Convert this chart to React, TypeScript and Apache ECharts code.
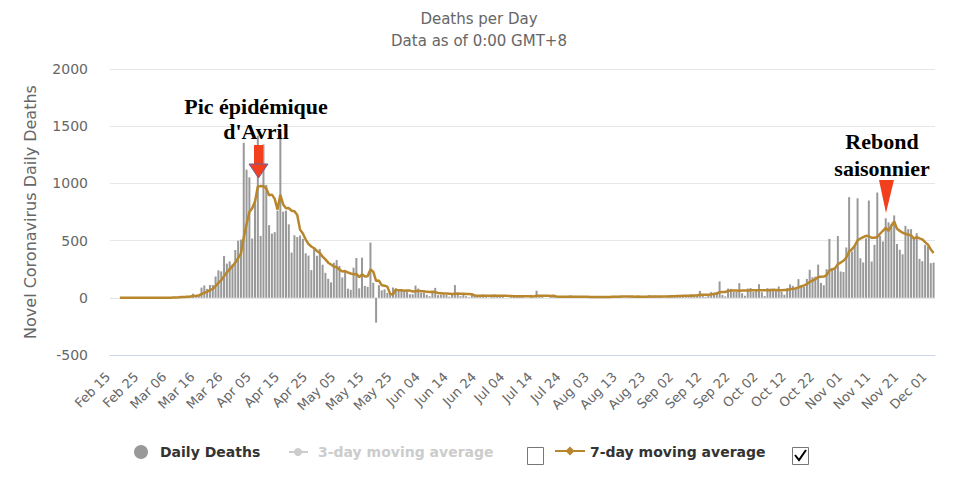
import React, { useEffect, useRef } from "react";
import * as echarts from "echarts";

// ---- categories (one per day, Feb 15 .. Dec 03) ----
const MONTH_SPANS: [string, number, number][] = [
  ["Feb", 15, 29], ["Mar", 1, 31], ["Apr", 1, 30], ["May", 1, 31], ["Jun", 1, 30],
  ["Jul", 1, 31], ["Aug", 1, 31], ["Sep", 1, 30], ["Oct", 1, 31], ["Nov", 1, 30], ["Dec", 1, 3],
];
const categories: string[] = [];
MONTH_SPANS.forEach(([m, a, b]) => {
  for (let d = a; d <= b; d++) categories.push(`${m} ${d < 10 ? "0" + d : d}`);
});

// ---- daily deaths, per month ----
const febDeaths = [1, 0, 0, 0, 0, 0, 0, 0, 0, 0, 0, 1, 0, 0, 0];
const marDeaths = [0, 1, 1, 0, 2, 3, 2, 8, 6, 8, 15, 13, 18, 12, 36, 21, 27, 89, 108, 78, 112, 112, 186, 240, 231, 365, 299, 319, 292, 418, 499];
const aprDeaths = [509, 1355, 1120, 1053, 518, 833, 1417, 541, 1341, 987, 635, 561, 574, 762, 1438, 753, 761, 642, 395, 547, 531, 544, 516, 389, 369, 242, 437, 367, 427, 289];
const mayDeaths = [218, 166, 135, 306, 330, 278, 178, 243, 80, 70, 263, 348, 83, 351, 104, 96, 483, 131, -217, 110, 65, 74, 43, 35, 90, 83, 65, 66, 52, 57, 31];
const junDeaths = [31, 107, 81, 44, 46, 27, 13, 54, 87, 23, 27, 28, 24, 10, 29, 111, 28, 14, 28, 14, 5, 23, 30, 18, 14, 29, 10, 3, 26, 30];
const julDeaths = [14, 18, 25, 0, 0, 16, 21, 14, 14, 25, 0, 0, 25, 0, 62, 18, 11, 0, 0, 14, 20, 15, 9, 14, 0, 0, 17, 14, 12, 11, 9];
const augDeaths = [0, 0, 13, 6, 12, 11, 8, 0, 0, 14, 17, 17, 11, 16, 0, 0, 13, 17, 12, 17, 10, 0, 0, 22, 15, 18, 16, 16, 0, 0, 22];
const sepDeaths = [25, 20, 22, 18, 12, 7, 25, 32, 27, 19, 61, 17, 8, 26, 50, 46, 52, 143, 26, 12, 81, 78, 52, 52, 128, 40, 18, 81, 85, 53];
const octDeaths = [63, 119, 49, 15, 84, 80, 77, 61, 99, 54, 27, 86, 117, 104, 88, 163, 110, 95, 165, 245, 180, 185, 290, 130, 110, 250, 515, 260, 250, 540, 230];
const novDeaths = [225, 440, 880, 405, 463, 870, 346, 309, 520, 850, 317, 463, 920, 541, 492, 695, 660, 640, 720, 470, 420, 380, 629, 600, 600, 520, 565, 340, 320, 463];
const decDeaths = [448, 303, 308];

// ---- 7-day moving average, per month ----
const febAvg7 = [null, null, null, 0, 0, 0, 0, 0, 0, 0, 0, 0, 0, 0, 0];
const marAvg7 = [0.1, 0.3, 0.4, 0.3, 0.6, 1, 1.3, 2.4, 3.1, 4.1, 6.3, 7.9, 10, 11.4, 15.4, 17.6, 20.3, 30.9, 44.4, 53, 67.3, 78.1, 101.7, 132.1, 152.4, 189.1, 220.7, 250.3, 276, 309.1, 346.1];
const aprAvg7 = [386, 527, 645, 749, 782, 841, 972, 977, 975, 956, 896, 902, 865, 771, 900, 816, 783, 784, 761, 757, 724, 596, 562, 509, 470, 448, 433, 409, 392, 360];
const mayAvg7 = [336, 307, 291, 273, 267, 246, 230, 234, 221, 212, 206, 209, 181, 205, 186, 188, 247, 228, 147, 151, 110, 106, 98, 34, 29, 71, 65, 65, 62, 64, 63];
const junAvg7 = [55, 58, 61, 58, 57, 52, 50, 53, 50, 42, 40, 37, 37, 36, 33, 36, 37, 35, 35, 33, 33, 32, 20, 19, 19, 19, 18, 18, 19, 19];
const julAvg7 = [18, 19, 18, 17, 16, 15, 13, 13, 13, 13, 13, 13, 14, 11, 18, 19, 17, 17, 17, 15, 18, 11, 10, 10, 10, 10, 11, 10, 9, 10, 9];
const augAvg7 = [9, 9, 8, 7, 7, 7, 7, 7, 7, 7, 9, 10, 10, 11, 11, 11, 11, 11, 10, 11, 10, 10, 10, 11, 11, 12, 12, 12, 12, 12, 12];
const sepAvg7 = [14, 14, 15, 15, 17, 18, 18, 19, 20, 20, 26, 27, 27, 27, 30, 32, 37, 49, 50, 51, 59, 63, 63, 63, 61, 63, 64, 64, 65, 65];
const octAvg7 = [67, 66, 67, 66, 67, 66, 70, 69, 66, 67, 69, 69, 74, 78, 82, 91, 99, 109, 120, 139, 149, 163, 181, 184, 186, 199, 237, 249, 258, 294, 308];
const novAvg7 = [324, 351, 404, 424, 455, 502, 518, 530, 542, 538, 525, 525, 532, 560, 586, 611, 584, 630, 667, 603, 585, 569, 560, 551, 546, 517, 531, 519, 511, 487];
const decAvg7 = [465, 423, 392];

const yTicks = { min: -500, max: 2000, interval: 500 };

const dailyDeaths = [
  ...febDeaths, ...marDeaths, ...aprDeaths, ...mayDeaths, ...junDeaths, ...julDeaths,
  ...augDeaths, ...sepDeaths, ...octDeaths, ...novDeaths, ...decDeaths,
];
const avg7 = [
  ...febAvg7, ...marAvg7, ...aprAvg7, ...mayAvg7, ...junAvg7, ...julAvg7,
  ...augAvg7, ...sepAvg7, ...octAvg7, ...novAvg7, ...decAvg7,
];

const FONT = "DejaVu Sans";
const SERIF = "Liberation Serif";
const BROWN = "#b8862d";
const RED = "#f2401e";

export default function App() {
  const ref = useRef<HTMLDivElement>(null);

  useEffect(() => {
    document.body.style.margin = "0";
    if (!ref.current) return;
    const chart = echarts.init(ref.current, undefined, { renderer: "svg" });
    chart.setOption({
      animation: false,
      textStyle: { fontFamily: FONT },
      title: {
        text: "Deaths per Day",
        subtext: "Data as of 0:00 GMT+8",
        left: "center",
        top: 6,
        itemGap: 7,
        textStyle: { fontSize: 15, fontWeight: "normal", color: "#666", fontFamily: FONT },
        subtextStyle: { fontSize: 15, color: "#666", fontFamily: FONT },
      },
      grid: { left: 110, right: 23, top: 69, bottom: 122 },
      xAxis: {
        type: "category",
        data: categories,
        boundaryGap: true,
        axisLine: { onZero: false, lineStyle: { color: "#ccd6eb", width: 1 } },
        axisTick: { show: false },
        axisLabel: {
          interval: 9,
          rotate: 45,
          fontSize: 13,
          color: "#666",
          margin: 16,
          padding: [0, 5, 0, 0],
          fontFamily: FONT,
        },
        splitLine: { show: false },
      },
      yAxis: {
        type: "value",
        min: yTicks.min,
        max: yTicks.max,
        interval: yTicks.interval,
        name: "Novel Coronavirus Daily Deaths",
        nameLocation: "middle",
        nameGap: 72,
        nameTextStyle: { fontSize: 16, color: "#666", fontFamily: FONT },
        axisLabel: {
          fontSize: 14,
          color: "#666",
          margin: 22,
          fontFamily: FONT,
          formatter: (v: number) => String(v),
        },
        axisLine: { show: false },
        axisTick: { show: false },
        splitLine: { lineStyle: { color: "#e6e6e6", width: 1 } },
      },
      series: [
        {
          name: "Daily Deaths",
          type: "bar",
          data: dailyDeaths,
          barWidth: 2,
          itemStyle: { color: "#999999" },
        },
        {
          name: "7-day moving average",
          type: "line",
          data: avg7,
          symbol: "none",
          lineStyle: { width: 2.5, color: BROWN },
          itemStyle: { color: BROWN },
          z: 3,
        },
      ],
      graphic: [
        // legend
        { type: "circle", shape: { cx: 141, cy: 452, r: 7 }, style: { fill: "#999" } },
        { type: "text", x: 160, y: 452, style: { text: "Daily Deaths", font: `bold 14px "${FONT}"`, fill: "#333", verticalAlign: "middle" } },
        { type: "line", shape: { x1: 289, y1: 452, x2: 308, y2: 452 }, style: { stroke: "#ccc", lineWidth: 2 } },
        { type: "circle", shape: { cx: 298, cy: 452, r: 4 }, style: { fill: "#ccc" } },
        { type: "text", x: 318, y: 452, style: { text: "3-day moving average", font: `bold 14px "${FONT}"`, fill: "#ccc", verticalAlign: "middle" } },
        { type: "rect", shape: { x: 527.5, y: 447.5, width: 16, height: 17 }, style: { fill: "#fff", stroke: "#777", lineWidth: 1 } },
        { type: "line", shape: { x1: 555, y1: 451, x2: 585, y2: 451 }, style: { stroke: BROWN, lineWidth: 2 } },
        { type: "polygon", shape: { points: [[570, 446.5], [574.5, 451], [570, 455.5], [565.5, 451]] }, style: { fill: BROWN } },
        { type: "text", x: 590, y: 452, style: { text: "7-day moving average", font: `bold 14px "${FONT}"`, fill: "#333", verticalAlign: "middle" } },
        { type: "rect", shape: { x: 792.5, y: 447.5, width: 16, height: 17 }, style: { fill: "#fff", stroke: "#777", lineWidth: 1 } },
        { type: "polyline", shape: { points: [[795, 455], [799, 460], [806, 450]] }, style: { stroke: "#000", lineWidth: 2, fill: null } },
        // annotations
        { type: "text", x: 256, y: 106, z: 100, style: { text: "Pic épidémique", font: `bold 22px "${SERIF}"`, fill: "#000", align: "center", verticalAlign: "middle" } },
        { type: "text", x: 256, y: 131, z: 100, style: { text: "d'Avril", font: `bold 22px "${SERIF}"`, fill: "#000", align: "center", verticalAlign: "middle" } },
        { type: "rect", z: 100, shape: { x: 254, y: 145, width: 9, height: 20 }, style: { fill: RED } },
        { type: "polygon", z: 100, shape: { points: [[249, 164], [268, 164], [258.5, 178]] }, style: { fill: RED, stroke: "#6a5f9e", lineWidth: 1 } },
        { type: "text", x: 882, y: 141, z: 100, style: { text: "Rebond", font: `bold 22px "${SERIF}"`, fill: "#000", align: "center", verticalAlign: "middle" } },
        { type: "text", x: 882, y: 168, z: 100, style: { text: "saisonnier", font: `bold 22px "${SERIF}"`, fill: "#000", align: "center", verticalAlign: "middle" } },
        { type: "polygon", z: 100, shape: { points: [[879, 180], [894, 180], [886, 213]] }, style: { fill: RED } },
      ],
    });
    return () => chart.dispose();
  }, []);

  return <div ref={ref} style={{ width: 958, height: 477 }} />;
}
